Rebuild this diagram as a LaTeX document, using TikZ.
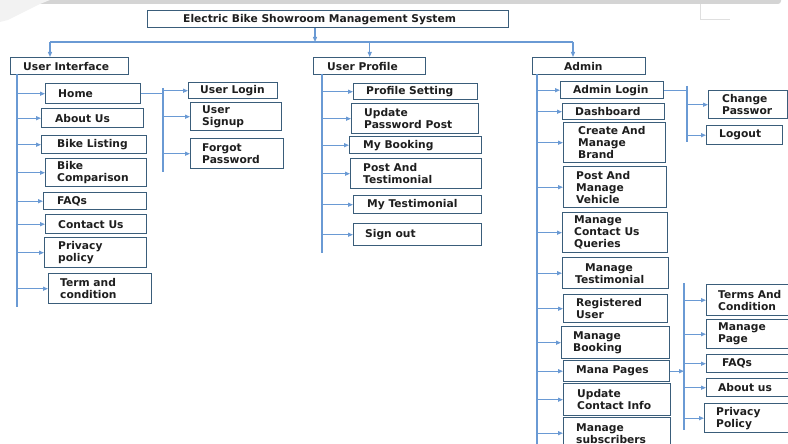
\documentclass[tikz,border=0pt]{standalone}
\usepackage{fontspec}
\setmainfont{DejaVu Sans}
\usetikzlibrary{calc, arrows.meta}
\definecolor{boxline}{HTML}{3A5D7A}
\definecolor{linkline}{HTML}{6A9AD4}
\definecolor{textcol}{HTML}{1E1E1E}
\definecolor{topgray}{HTML}{D4D4D4}
% name-box with its text set in from the left edge
\newcommand*\menubox[7][13]{
            \node[menu, minimum width={#5-#3}, minimum height={#6-#4}] (#2) at (#3,#4) {};
            \node[menutext] (#2-t) at ($(#2.west)+(#1,0)$) {#7};}

\begin{document}
\begin{tikzpicture}[x=1pt, y=-1pt,
        menu/.style={draw=boxline, line width=1.4pt, anchor=north west, inner sep=0pt},
        menutext/.style={anchor=west, align=left, text=textcol, inner sep=0pt,
            font=\bfseries\fontsize{10.7}{12}\selectfont},
        link/.style={draw=linkline, line width=1.1pt},
        linkarrow/.style={link, -{Triangle[length=5pt,width=4pt]}}]
        \useasboundingbox (0,0) rectangle (788,444);
        \clip (0,0) rectangle (788,444);

        % screenshot edge
        \fill[topgray, rounded corners=3pt] (-6,-6) rectangle (781,4);
        \fill[gray!10] (0,0) -- (50,0) -- (40,4) -- (8,20) -- (0,22) -- cycle;
        \draw[gray!25, line width=0.8pt] (700,4) -- (700,19) -- (730,19);

        % top levels
        \menubox[36]{title}{147}{10}{508}{27}{Electric Bike Showroom Management System}
        \menubox{ui}{10}{57}{128}{74}{User Interface}
        \menubox[14]{up}{313}{57}{425}{74}{User Profile}
        \menubox[32]{admin}{532}{57}{645}{74}{Admin}

        \coordinate (titleDrop) at (315,42);
        \coordinate (busL) at (50,42);
        \coordinate (busR) at (573,42);
        \draw[linkarrow] (titleDrop |- title.south) -- (titleDrop);
        \draw[link] (busL) -- (busR);
        \draw[linkarrow] (busL) -- (busL |- ui.north);
        \draw[linkarrow] (busL -| up.north) -- (up.north);
        \draw[linkarrow] (busR) -- (busR |- admin.north);

        % user interface
        \menubox{home}{45}{83}{140}{103}{Home}
        \menubox[14]{about}{41}{108}{143}{127}{About Us}
        \menubox[16]{listing}{41}{135}{146}{153}{Bike Listing}
        \menubox[12]{compare}{45}{158}{146}{186}{Bike\\Comparison}
        \menubox[14]{faqs}{43}{192}{146}{209}{FAQs}
        \menubox{contact}{45}{214}{146}{233}{Contact Us}
        \menubox[14]{privacy}{44}{237}{146}{267}{Privacy\\policy}
        \menubox[12]{terms}{48}{273}{151}{303}{Term and\\condition}

        \menubox[12]{login}{188}{82}{277}{98}{User Login}
        \menubox[12]{signup}{190}{102}{281}{130}{User\\Signup}
        \menubox[12]{forgot}{190}{138}{283}{168}{Forgot\\Password}

        \coordinate (uiTrunk) at (17,74);
        \coordinate (homeBarTop) at (163,88);
        \coordinate (homeBarBot) at (163,172);
        \draw[link] (uiTrunk) -- (17,307);
        \foreach \n in {home,about,listing,compare,faqs,contact,privacy,terms}
            \draw[linkarrow] (uiTrunk |- \n.west) -- (\n.west);
        \draw[link] (home.east) -- (homeBarTop |- home.east);
        \draw[link] (homeBarTop) -- (homeBarBot);
        \foreach \n in {login,signup,forgot}
            \draw[linkarrow] (homeBarTop |- \n.west) -- (\n.west);

        % user profile
        \menubox{psetting}{353}{83}{477}{99}{Profile Setting}
        \menubox{updpass}{351}{103}{478}{133}{Update\\Password Post}
        \menubox[14]{mybook}{349}{136}{481}{153}{My Booking}
        \menubox{posttest}{350}{158}{481}{188}{Post And\\Testimonial}
        \menubox[14]{mytest}{353}{195}{481}{213}{My Testimonial}
        \menubox[12]{signout}{353}{223}{481}{245}{Sign out}

        \coordinate (upTrunk) at (322,74);
        \draw[link] (upTrunk) -- (322,253);
        \foreach \n in {psetting,updpass,mybook,posttest,mytest,signout}
            \draw[linkarrow] (upTrunk |- \n.west) -- (\n.west);

        % admin
        \menubox{alogin}{560}{81}{663}{98}{Admin Login}
        \menubox{dash}{562}{103}{664}{119}{Dashboard}
        \menubox[15]{brand}{563}{122}{665}{162}{Create And\\Manage\\Brand}
        \menubox{vehicle}{563}{166}{666}{207}{Post And\\Manage\\Vehicle}
        \menubox[12]{queries}{562}{212}{667}{252}{Manage\\Contact Us\\Queries}
        \menubox{mtest}{562}{257}{668}{288}{\hspace*{10pt}Manage\\Testimonial}
        \menubox{reguser}{563}{294}{667}{322}{Registered\\User}
        \menubox[12]{mbook}{561}{326}{669}{358}{Manage\\Booking}
        \menubox{mpages}{563}{360}{669}{381}{Mana Pages}
        \menubox[14]{ucontact}{563}{383}{670}{415}{Update\\Contact Info}
        \menubox{msubs}{563}{417}{670}{448}{Manage\\subscribers}

        \menubox[14]{chpass}{708}{90}{787}{118}{Change\\Passwor}
        \menubox{logout}{706}{125}{782}{144}{Logout}

        \menubox[12]{ptermsc}{706}{284}{794}{315}{Terms And\\Condition}
        \menubox[12]{pmanage}{706}{319}{794}{348}{Manage\\Page}
        \menubox[16]{pfaqs}{706}{354}{794}{372}{FAQs}
        \menubox[12]{pabout}{706}{378}{794}{396}{About us}
        \menubox[12]{ppolicy}{704}{403}{794}{432}{Privacy\\Policy}

        \coordinate (adminTrunk) at (537,74);
        \draw[link] (adminTrunk) -- (537,450);
        \foreach \n in {alogin,dash,brand,vehicle,queries,mtest,reguser,mbook,mpages,ucontact,msubs}
            \draw[linkarrow] (adminTrunk |- \n.west) -- (\n.west);

        \coordinate (loginBarTop) at (687,86);
        \coordinate (loginBarBot) at (687,142);
        \draw[link] (alogin.east) -- (loginBarTop |- alogin.east);
        \draw[link] (loginBarTop) -- (loginBarBot);
        \foreach \n in {chpass,logout}
            \draw[linkarrow] (loginBarTop |- \n.west) -- (\n.west);

        \coordinate (pagesBarTop) at (684,283);
        \coordinate (pagesBarBot) at (684,430);
        \draw[linkarrow] (mpages.east) -- (pagesBarTop |- mpages.east);
        \draw[link] (pagesBarTop) -- (pagesBarBot);
        \foreach \n in {ptermsc,pmanage,pfaqs,pabout,ppolicy}
            \draw[linkarrow] (pagesBarTop |- \n.west) -- (\n.west);
    \end{tikzpicture}
\end{document}
